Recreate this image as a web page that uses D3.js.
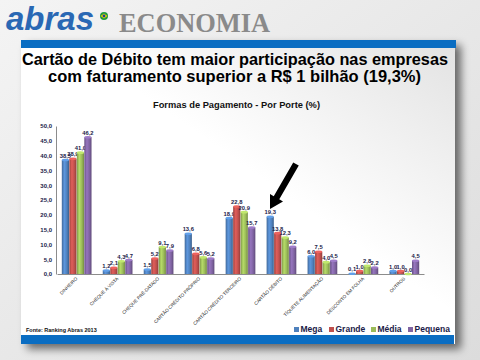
<!DOCTYPE html>
<html><head><meta charset="utf-8">
<script src="https://cdn.jsdelivr.net/npm/d3@7"></script>
<style>body{margin:0;background:#e9e9e9}svg{display:block}</style>
</head><body>
<svg id="c" width="480" height="360"></svg>
<script>
const categories = ["DINHEIRO","CHEQUE À VISTA","CHEQUE PRÉ-DATADO","CARTÃO CRÉDITO PRÓPRIO","CARTÃO CRÉDITO TERCEIRO","CARTÃO DÉBITO","TÍQUETE ALIMENTAÇÃO","DESCONTO EM FOLHA","OUTROS"];
const seriesNames = ["Mega","Grande","Média","Pequena"];
const mega    = [38.5, 1.2, 1.5, 13.6, 18.9, 19.3, 6.0, 0.1, 1.0];
const grande  = [38.9, 2.1, 5.2, 6.8, 22.8, 13.8, 7.5, 1.0, 1.0];
const media   = [41.0, 4.3, 9.1, 5.6, 20.9, 12.3, 4.0, 2.8, 0.0];
const pequena = [46.2, 4.7, 7.9, 5.2, 15.7, 9.2, 4.5, 2.2, 4.5];
const yTicks = [0,5,10,15,20,25,30,35,40,45,50];
const colors = ["#4F81BD","#C0504D","#9BBB59","#8064A2"];
const seriesValues = [mega, grande, media, pequena];

const svg = d3.select("#c");
const defs = svg.append("defs");
const fmt = v => v.toFixed(1).replace(".", ",");

// background
const bg = defs.append("linearGradient").attr("id","bg").attr("x1",0).attr("y1",0).attr("x2",1).attr("y2",1);
bg.append("stop").attr("offset",0).attr("stop-color","#f4f4f4");
bg.append("stop").attr("offset",1).attr("stop-color","#dcdcdc");
svg.append("rect").attr("width",480).attr("height",360).attr("fill","url(#bg)");

// panel shadow
const sh = defs.append("filter").attr("id","sh").attr("x","-10%").attr("y","-10%").attr("width","130%").attr("height","130%");
sh.append("feGaussianBlur").attr("in","SourceAlpha").attr("stdDeviation",4);
sh.append("feOffset").attr("dx",6).attr("dy",5).attr("result","b");
sh.append("feComponentTransfer").append("feFuncA").attr("type","linear").attr("slope",0.55);
const fm = sh.append("feMerge"); fm.append("feMergeNode"); fm.append("feMergeNode").attr("in","SourceGraphic");

const pg = defs.append("linearGradient").attr("id","pg").attr("x1",0).attr("y1",1).attr("x2",1).attr("y2",0);
pg.append("stop").attr("offset",0).attr("stop-color","#ffffff");
pg.append("stop").attr("offset",0.55).attr("stop-color","#ffffff");
pg.append("stop").attr("offset",1).attr("stop-color","#e2e2e2");
svg.append("rect").attr("x",21).attr("y",40).attr("width",434).attr("height",304).attr("fill","url(#pg)").attr("filter","url(#sh)");
svg.append("rect").attr("x",21).attr("y",40).attr("width",435).attr("height",8).attr("fill","#0a6dc2");
svg.append("rect").attr("x",21).attr("y",335).attr("width",433).attr("height",9).attr("fill","#0a6dc2");

// logo
svg.append("text").attr("x",6).attr("y",30).attr("font-family","Liberation Sans, Arial").attr("font-weight","bold")
  .attr("font-style","italic").attr("font-size",33).attr("fill","#2a68b4").attr("textLength",88)
  .attr("lengthAdjust","spacingAndGlyphs").text("abras");
svg.append("circle").attr("cx",104).attr("cy",16).attr("r",4).attr("fill","#1f9a3e");
svg.append("path").attr("d","M100.6,16 L104,13.6 L107.4,16 L104,18.4 Z").attr("fill","#f2d600");
svg.append("circle").attr("cx",104).attr("cy",16).attr("r",1.4).attr("fill","#1d3f9a");
svg.append("text").attr("x",119).attr("y",32).attr("font-family","Liberation Serif, Times New Roman").attr("font-weight","bold")
  .attr("font-size",27).attr("fill","#8a8a8a").attr("textLength",151).attr("lengthAdjust","spacingAndGlyphs").text("ECONOMIA");

// title
svg.append("text").attr("x",22).attr("y",65).attr("font-family","Liberation Sans, Arial").attr("font-weight","bold")
  .attr("font-size",16.5).attr("fill","#000").attr("textLength",426).attr("lengthAdjust","spacingAndGlyphs")
  .text("Cartão de Débito tem maior participação nas empresas");
svg.append("text").attr("x",48).attr("y",81.5).attr("font-family","Liberation Sans, Arial").attr("font-weight","bold")
  .attr("font-size",16.5).attr("fill","#000").attr("textLength",373).attr("lengthAdjust","spacingAndGlyphs")
  .text("com faturamento superior a R$ 1 bilhão (19,3%)");

svg.append("text").attr("x",153).attr("y",108).attr("font-family","Liberation Sans, Arial").attr("font-weight","bold")
  .attr("font-size",9.5).attr("fill","#111").attr("textLength",167).attr("lengthAdjust","spacingAndGlyphs")
  .text("Formas de Pagamento - Por Porte (%)");

// scales
const x0 = d3.scaleBand().domain(categories).range([57,424]).paddingInner(0.26).paddingOuter(0.11);
const x1 = d3.scaleBand().domain(seriesNames).range([0,x0.bandwidth()]).padding(0.04);
const y = d3.scaleLinear().domain([0,50]).range([274,126]);

// gradients for bars
colors.forEach((c,i)=>{
  const g = defs.append("linearGradient").attr("id","bar"+i).attr("x1",0).attr("x2",1).attr("y1",0).attr("y2",0);
  const base = d3.color(c);
  g.append("stop").attr("offset",0).attr("stop-color",base.darker(0.6));
  g.append("stop").attr("offset",0.35).attr("stop-color",base.brighter(0.45));
  g.append("stop").attr("offset",0.7).attr("stop-color",base);
  g.append("stop").attr("offset",1).attr("stop-color",base.darker(0.8));
});

// axes
const yAxis = d3.axisLeft(y).tickValues(yTicks).tickSize(0).tickPadding(4).tickFormat(fmt);
const ya = svg.append("g").attr("transform","translate(56,0)").call(yAxis);
ya.select(".domain").attr("stroke","#8c8c8c");
ya.selectAll("text").attr("font-family","Liberation Sans, Arial").attr("font-weight","bold").attr("font-size",6).attr("fill","#1a1a48");

const xAxis = d3.axisBottom(x0).tickSize(0).tickFormat("");
const xa = svg.append("g").attr("transform","translate(0,274)").call(xAxis);
xa.select(".domain").attr("stroke","#8c8c8c");

// category labels
svg.append("g").selectAll("text").data(categories).join("text")
  .attr("transform", d => `translate(${x0(d)+x0.bandwidth()/2+1},279) rotate(-45)`)
  .attr("text-anchor","end").attr("font-family","Liberation Sans, Arial").attr("font-size",4.6)
  .attr("fill","#222").text(d=>d);

// bars
const groups = svg.append("g").selectAll("g").data(categories).join("g")
  .attr("transform", d => `translate(${x0(d)},0)`);
const cells = groups.selectAll("g").data((d,ci)=>seriesNames.map((s,si)=>({s,si,v:seriesValues[si][ci]}))).join("g");
cells.append("rect")
  .attr("x",d=>x1(d.s)).attr("width",x1.bandwidth())
  .attr("y",d=>y(d.v)).attr("height",d=>y(0)-y(d.v))
  .attr("fill",d=>`url(#bar${d.si})`);
cells.append("ellipse")
  .attr("cx",d=>x1(d.s)+x1.bandwidth()/2).attr("cy",d=>y(d.v))
  .attr("rx",x1.bandwidth()/2).attr("ry",1.3)
  .attr("fill",d=>d3.color(colors[d.si]).brighter(0.6));
cells.append("text")
  .attr("x",d=>x1(d.s)+x1.bandwidth()/2).attr("y",d=>y(d.v)-2.5)
  .attr("text-anchor","middle").attr("font-family","Liberation Sans, Arial").attr("font-weight","bold")
  .attr("font-size",5.8).attr("fill","#1a1a48").text(d=>fmt(d.v));

// arrow
(function(){
  const tx=296, ty=164, hx=270, hy=209;
  const dx=hx-tx, dy=hy-ty, L=Math.hypot(dx,dy), ux=dx/L, uy=dy/L, px=-uy, py=ux;
  const hw=3.2, hh=7.5, hl=13;
  const bx=hx-ux*hl, by=hy-uy*hl;
  const pts=[[tx+px*hw,ty+py*hw],[bx+px*hw,by+py*hw],[bx+px*hh,by+py*hh],[hx,hy],[bx-px*hh,by-py*hh],[bx-px*hw,by-py*hw],[tx-px*hw,ty-py*hw]];
  svg.append("path").attr("d","M"+pts.map(p=>p.join(",")).join("L")+"Z").attr("fill","#000");
})();

// legend
const legX = [294,329,371,408];
const lg = svg.append("g").selectAll("g").data(seriesNames).join("g")
  .attr("transform",(d,i)=>`translate(${legX[i]},0)`);
lg.append("rect").attr("x",0).attr("y",327).attr("width",5).attr("height",5).attr("fill",(d,i)=>colors[i]);
lg.append("text").attr("x",6.5).attr("y",332).attr("font-family","Liberation Sans, Arial").attr("font-weight","bold")
  .attr("font-size",8.5).attr("fill","#1a1a48").text(d=>d);

// source
svg.append("rect").attr("x",21).attr("y",323).attr("width",86).attr("height",12).attr("fill","#fff");
svg.append("text").attr("x",26).attr("y",332).attr("font-family","Liberation Sans, Arial").attr("font-weight","bold")
  .attr("font-size",5.5).attr("fill","#111").text("Fonte: Ranking  Abras 2013");
</script>
</body></html>
